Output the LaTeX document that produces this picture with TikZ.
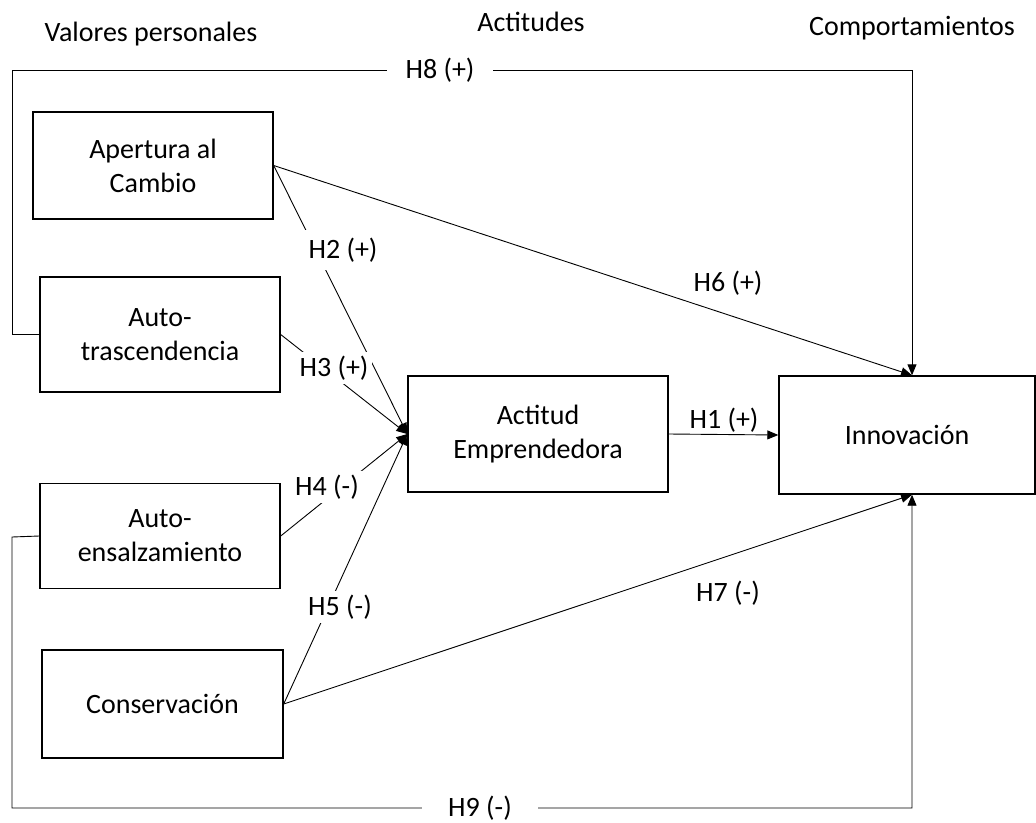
\documentclass[tikz,border=0pt]{standalone}
\usepackage{fontspec}
\setmainfont{Carlito}
\usetikzlibrary{arrows.meta}
\begin{document}
\begin{tikzpicture}[x=1pt,y=-1pt,
  box/.style={draw, line width=1.4pt, align=center, inner sep=0pt},
  conn/.style={line width=0.9pt, -{Triangle[length=11pt,width=9pt]}},
  lab/.style={fill=white, inner sep=4pt},
  freelab/.style={inner sep=0pt},
  every node/.style={font=\fontsize{28}{34}\selectfont}]
\useasboundingbox (0,0) rectangle (1036,822);
% headings
\node[freelab] (hv) at (151,34) {Valores personales};
\node[freelab] (ha) at (531,22) {Actitudes};
\node[freelab] (hc) at (912,28) {Comportamientos};
% boxes
\node[box, minimum width=240pt, minimum height=107pt] (ap) at (153,165.5) {Apertura al\\Cambio};
\node[box, minimum width=240pt, minimum height=115pt] (at) at (160,334.5) {Auto-\\trascendencia};
\node[box, minimum width=240pt, minimum height=105pt] (ae) at (160,536) {Auto-\\ensalzamiento};
\node[box, minimum width=241pt, minimum height=108pt] (co) at (162.5,704) {Conservación};
\node[box, minimum width=260pt, minimum height=116pt] (ac) at (538,434) {Actitud\\Emprendedora};
\node[box, minimum width=256pt, minimum height=118pt] (in) at (907,435) {Innovación};
\coordinate (intop) at ([xshift=5pt]in.north);
\coordinate (inbot) at ([xshift=5pt]in.south);
\coordinate (h8a) at (12,334.5);
\coordinate (h8b) at (12,70);
\coordinate (h9a) at (12,537);
\coordinate (h9b) at (12,808);
% connectors
\draw[conn] (at.west) -- (h8a) -- (h8b) -- (h8b -| intop) -- (intop);
\draw[conn] (ae.west) -- (h9a) -- (h9b) -- (h9b -| inbot) -- (inbot);
\draw[conn] (ap.east) -- (intop);
\draw[conn] (co.east) -- (inbot);
\draw[conn] (ap.east) -- (ac.west);
\draw[conn] (at.east) -- (ac.west);
\draw[conn] (ae.east) -- (ac.west);
\draw[conn] (co.east) -- (ac.west);
\draw[conn] (ac.east) -- (in.west);
% labels
\node[lab, inner xsep=19pt] (l8) at (440,70) {H8 (+)};
\node[lab, inner xsep=26pt] (l9) at (480,808) {H9 (-)};
\node[lab, inner ysep=8pt] (l2) at (343,250) {H2 (+)};
\node[lab] (l3) at (334,368) {H3 (+)};
\node[lab] (l4) at (327,487) {H4 (-)};
\node[lab] (l5) at (340,607) {H5 (-)};
\node[freelab] (l6) at (728,283) {H6 (+)};
\node[freelab] (l7) at (728,593) {H7 (-)};
\node[freelab] (l1) at (724,420) {H1 (+)};
\end{tikzpicture}
\end{document}
